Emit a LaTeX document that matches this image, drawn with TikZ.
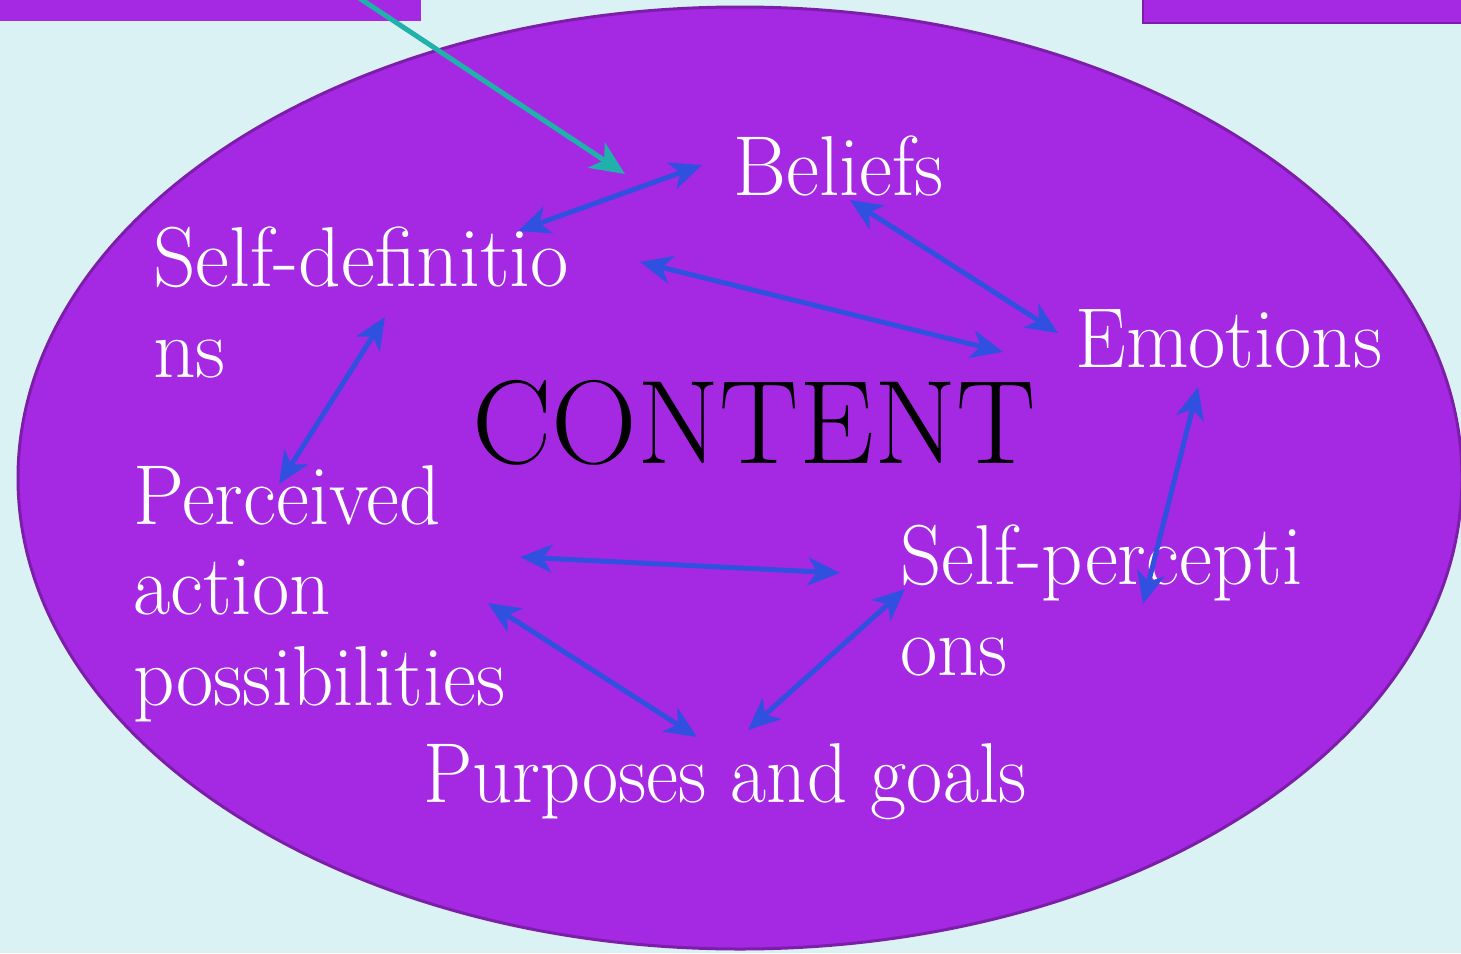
\documentclass[tikz,border=0pt]{standalone}
\usetikzlibrary{arrows.meta,shapes.geometric}
\definecolor{bgc}{RGB}{218,242,243}
\definecolor{purp}{RGB}{165,40,227}
\definecolor{purpdark}{RGB}{125,30,170}
\definecolor{arrblue}{RGB}{48,80,224}
\definecolor{arrteal}{RGB}{32,178,170}
\tikzset{
  lbl/.style={text=white, font=\fontsize{81}{86}\selectfont, inner sep=0pt, align=left, anchor=base west, yscale=1.05},
  link/.style={draw=arrblue, line width=5pt, {Stealth[length=32pt,width=28pt,inset=9pt]}-{Stealth[length=32pt,width=28pt,inset=9pt]}},
  teallink/.style={draw=arrteal, line width=5pt, -{Stealth[length=34pt,width=30pt,inset=9pt]}},
  topbox/.style={fill=purp, inner sep=0pt, anchor=north west}
}
\begin{document}
\begin{tikzpicture}[x=1pt,y=-1pt]
\useasboundingbox (0,0) rectangle (1461,953);
\clip (0,0) rectangle (1461,953);
\fill[bgc] (0,0) rectangle (1461,953);
% top boxes (partially visible)
\node[topbox, minimum width=421pt, minimum height=60pt] (box1) at (0,-39) {};
\node[topbox, draw=purpdark, line width=2pt, minimum width=340pt, minimum height=60pt] (box2) at (1142,-38) {};
% ellipse
\node[ellipse, fill=purp, draw=purpdark, line width=3pt, minimum width=1444pt, minimum height=942pt, inner sep=0pt] (ell) at (740,478) {};
% texts (base = baseline of the last line)
\node[lbl] (beliefs) at (733,195) {Beliefs};
\node[lbl, xscale=1.03] (selfdef) at (153,377) {Self-definitio\\ns};
\node[lbl] (emotions) at (1075,367) {Emotions};
\node[lbl] (perceived) at (133,705) {Perceived\\action\\possibilities};
\node[lbl] (selfperc) at (900,675) {Self-percepti\\ons};
\node[lbl, xscale=0.97] (purposes) at (423,802) {Purposes and goals};
\node[text=black, font=\fontsize{119}{125}\selectfont, inner sep=0pt, anchor=base west] (content) at (472,463) {CONTENT};
% arrow end points
\coordinate (t0) at (335,-18);
\coordinate (t1) at (625,174);
\coordinate (a1) at (702,165); \coordinate (a2) at (518,231);
\coordinate (b1) at (640,262); \coordinate (b2) at (1003,352);
\coordinate (c1) at (850,200); \coordinate (c2) at (1058,333);
\coordinate (d1) at (385,317); \coordinate (d2) at (279,484);
\coordinate (e1) at (1198,387); \coordinate (e2) at (1143,604);
\coordinate (f1) at (520,557); \coordinate (f2) at (840,573);
\coordinate (g1) at (488,603); \coordinate (g2) at (697,737);
\coordinate (h1) at (905,589); \coordinate (h2) at (748,730);
% connectors
\draw[teallink] (t0) -- (t1);
\draw[link] (a2) -- (a1);
\draw[link] (b1) -- (b2);
\draw[link] (c1) -- (c2);
\draw[link] (d1) -- (d2);
\draw[link] (e1) -- (e2);
\draw[link] (f1) -- (f2);
\draw[link] (g1) -- (g2);
\draw[link] (h1) -- (h2);
\end{tikzpicture}
\end{document}
